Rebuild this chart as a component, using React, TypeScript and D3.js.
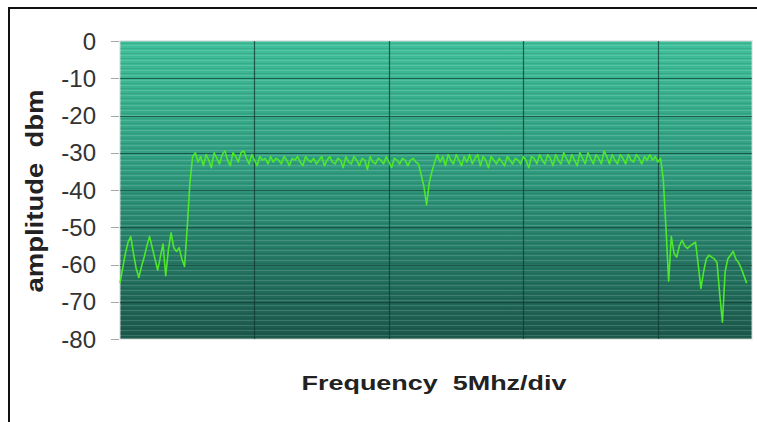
import React, { useEffect, useRef } from 'react';
import * as d3 from 'd3';

// amplitude readings in dBm, one every 0.1 MHz (50 samples = 5 MHz per division)
const lowerSkirt = [
  -65, -61, -57, -54, -52.5, -57, -61, -63.5, -60.5, -58,
  -55, -52.5, -55.5, -58.5, -61.5, -58, -54.5, -63, -56, -51.5,
  -55.5, -56.5, -55.5, -58.5, -60.5, -50, -38, -31,
];

const passband = [
  -30, -32.5, -31, -33.5, -30.5, -32, -34, -30, -31.5, -33,
  -30.5, -29.5, -32, -33.5, -30, -31, -32.5, -30, -29.5, -31.5,
  -33, -30.5, -32, -33.5, -31, -32, -31.5, -33, -31, -32.5,
  -31.5, -32, -33, -31, -32, -33.5, -31.5, -32, -31, -32.5,
  -33.5, -31, -32, -32.5, -31.5, -33, -32, -31, -33.5, -32,
  -31, -32.5, -33, -31.5, -32, -34, -31, -32.5, -33, -31,
  -32, -33.5, -31.5, -32, -34.5, -31, -32.5, -33, -31.5, -32,
  -33, -31, -32.5, -34, -31.5, -32, -33, -31.5, -32, -33.5,
  -32, -31.5, -32.5, -33, -36, -39, -44, -38, -35, -32.5,
  -30.5, -32.5, -31, -33.5, -30.5, -32, -33, -30.5, -32, -33.5,
  -31, -32.5, -30.5, -33, -31.5, -30.5, -33.5, -31, -32, -34,
  -31, -32, -33, -31.5, -32.5, -33.5, -31, -32, -33, -31.5,
  -32, -33, -31, -32, -34, -31, -31.5, -33, -30.5, -32,
  -33, -30.5, -31.5, -33.5, -30.5, -32, -33, -30, -31.5, -33,
  -30.5, -32, -33.5, -30, -31.5, -33, -30, -31.5, -33, -30.5,
  -31.5, -33, -29.5, -31, -33, -30.5, -32, -33, -30.5, -31.5,
  -33, -30.5, -32, -32.5, -30.5, -31.5, -33, -31, -32, -30.5,
  -32, -31, -32.5,
];

const upperSkirt = [
  -31.5, -37, -50, -64.5, -52.5, -57, -58, -55, -53.5, -55,
  -55.7, -55, -54.5, -54, -60, -66.4, -62, -58.5, -57.5, -58,
  -58.5, -59.5, -68, -75.5, -62, -58.5, -57.5, -56.5, -58.5, -59.5,
  -61, -63, -65,
];

const yTicks = [0, -10, -20, -30, -40, -50, -60, -70, -80];
const divisionTicks = [50, 100, 150, 200];
const sampleCount = 235;

const App: React.FC = () => {
  const svgRef = useRef<SVGSVGElement>(null);

  useEffect(() => {
    if (!svgRef.current) return;
    d3.select(svgRef.current).selectAll('*').remove();

    const W = 757;
    const H = 422;
    const plot = { left: 120, top: 41, right: 752, bottom: 339 };

    const svg = d3.select(svgRef.current)
      .attr('width', W)
      .attr('height', H);

    const trace = [...lowerSkirt, ...passband, ...upperSkirt].map((v, i) => ({ i, v }));

    const x = d3.scaleLinear().domain([0, sampleCount]).range([plot.left, plot.right]);
    const y = d3.scaleLinear().domain([-80, 0]).range([plot.bottom, plot.top]);

    const defs = svg.append('defs');
    const grad = defs.append('linearGradient')
      .attr('id', 'bg')
      .attr('x1', 0).attr('y1', 0).attr('x2', 0).attr('y2', 1);
    grad.append('stop').attr('offset', '0%').attr('stop-color', '#3fc09a');
    grad.append('stop').attr('offset', '45%').attr('stop-color', '#2f9a7d');
    grad.append('stop').attr('offset', '100%').attr('stop-color', '#1b584b');

    const stripes = defs.append('pattern')
      .attr('id', 'stripes')
      .attr('patternUnits', 'userSpaceOnUse')
      .attr('width', 8).attr('height', 5);
    stripes.append('rect').attr('x', 0).attr('y', 0).attr('width', 8).attr('height', 1)
      .attr('fill', '#ffffff').attr('opacity', 0.14);
    stripes.append('rect').attr('x', 0).attr('y', 3).attr('width', 8).attr('height', 1)
      .attr('fill', '#000000').attr('opacity', 0.08);

    // frame (runs off the right and bottom edges)
    svg.append('rect')
      .attr('x', 9).attr('y', 8)
      .attr('width', 800).attr('height', 500)
      .attr('fill', '#ffffff')
      .attr('stroke', '#111')
      .attr('stroke-width', 2);

    svg.append('rect')
      .attr('x', plot.left).attr('y', plot.top)
      .attr('width', plot.right - plot.left).attr('height', plot.bottom - plot.top)
      .attr('fill', 'url(#bg)')
      .attr('stroke', '#cfd8d4')
      .attr('stroke-width', 1);

    svg.append('rect')
      .attr('x', plot.left).attr('y', plot.top)
      .attr('width', plot.right - plot.left).attr('height', plot.bottom - plot.top)
      .attr('fill', 'url(#stripes)');

    // horizontal grid
    svg.selectAll('.hgrid')
      .data(yTicks.filter(d => d !== 0 && d !== -80))
      .enter()
      .append('line')
      .attr('class', 'hgrid')
      .attr('x1', plot.left).attr('x2', plot.right)
      .attr('y1', d => Math.round(y(d)) + 0.5).attr('y2', d => Math.round(y(d)) + 0.5)
      .attr('stroke', '#123f35')
      .attr('stroke-opacity', 0.7)
      .attr('stroke-width', 1.2);

    // vertical grid, one per division
    svg.selectAll('.vgrid')
      .data(divisionTicks)
      .enter()
      .append('line')
      .attr('class', 'vgrid')
      .attr('x1', d => Math.round(x(d)) + 0.5).attr('x2', d => Math.round(x(d)) + 0.5)
      .attr('y1', plot.top).attr('y2', plot.bottom)
      .attr('stroke', '#103a30')
      .attr('stroke-opacity', 0.75)
      .attr('stroke-width', 1.2);

    // y ticks + labels
    svg.selectAll('.ytick')
      .data(yTicks)
      .enter()
      .append('line')
      .attr('class', 'ytick')
      .attr('x1', plot.left - 9).attr('x2', plot.left - 1)
      .attr('y1', d => Math.round(y(d)) + 0.5).attr('y2', d => Math.round(y(d)) + 0.5)
      .attr('stroke', '#a8a8a8')
      .attr('stroke-width', 1);

    svg.selectAll('.ylabel')
      .data(yTicks)
      .enter()
      .append('text')
      .attr('class', 'ylabel')
      .attr('x', 96)
      .attr('y', d => y(d))
      .attr('dy', '0.36em')
      .attr('text-anchor', 'end')
      .style('font-family', '"Liberation Sans", Arial, sans-serif')
      .style('font-size', '24px')
      .attr('fill', '#333')
      .text(d => d);

    const line = d3.line<{ i: number; v: number }>()
      .x(d => x(d.i))
      .y(d => y(d.v));

    svg.append('path')
      .datum(trace)
      .attr('fill', 'none')
      .attr('stroke', '#4ee82a')
      .attr('stroke-width', 1.6)
      .attr('stroke-linejoin', 'round')
      .attr('d', line);

    svg.append('text')
      .attr('transform', 'translate(43,191) rotate(-90)')
      .attr('text-anchor', 'middle')
      .attr('textLength', 203)
      .attr('lengthAdjust', 'spacingAndGlyphs')
      .style('font-family', '"Liberation Sans", Arial, sans-serif')
      .style('font-size', '24px')
      .style('font-weight', 'bold')
      .style('white-space', 'pre')
      .attr('fill', '#222')
      .text('amplitude  dbm');

    svg.append('text')
      .attr('x', 434)
      .attr('y', 390)
      .attr('text-anchor', 'middle')
      .attr('textLength', 265)
      .attr('lengthAdjust', 'spacingAndGlyphs')
      .style('font-family', '"Liberation Sans", Arial, sans-serif')
      .style('font-size', '21px')
      .style('font-weight', 'bold')
      .style('white-space', 'pre')
      .attr('fill', '#222')
      .text('Frequency  5Mhz/div');
  }, []);

  return (
    <div style={{ position: 'absolute', left: 0, top: 0 }}>
      <svg ref={svgRef} style={{ display: 'block' }}></svg>
    </div>
  );
};

export default App;
